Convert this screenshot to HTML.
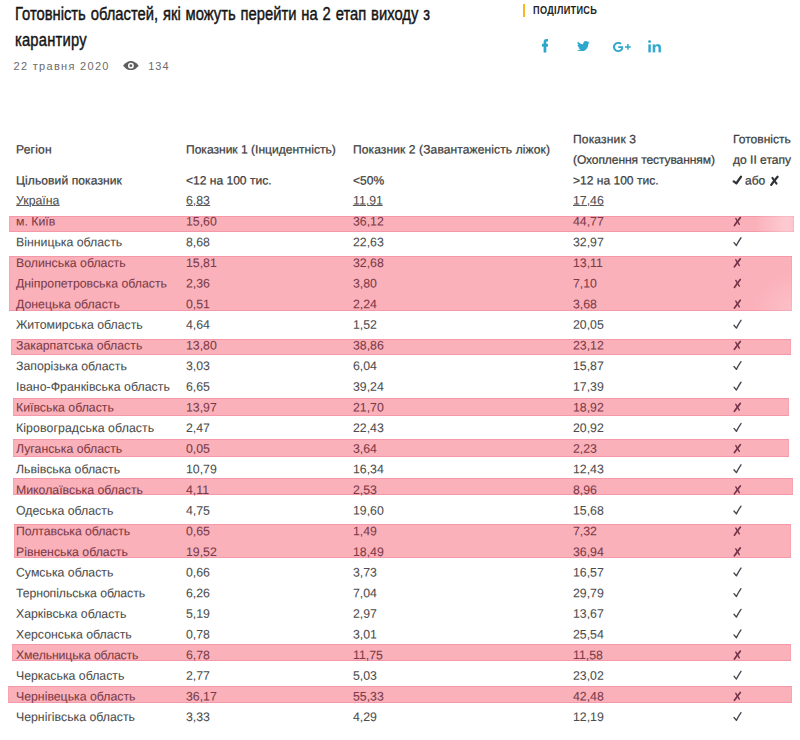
<!DOCTYPE html>
<html lang="uk"><head><meta charset="utf-8"><title>Готовність областей</title>
<style>
html,body{margin:0;padding:0;background:#fff;}
body{width:800px;height:740px;position:relative;overflow:hidden;font-family:"Liberation Sans",sans-serif;color:#444;}
.t{position:absolute;transform-origin:0 0;white-space:nowrap;font-size:12.3px;line-height:20px;height:20px;color:#4d4d4d;-webkit-text-stroke:0.08px #4d4d4d;}
.t.r{color:#7a3a48;-webkit-text-stroke:0.08px #7a3a48;}
.t.h{color:#3d3d3d;font-size:12.05px;-webkit-text-stroke:0.24px #3d3d3d;}
.t.ul{color:transparent;-webkit-text-stroke:0;text-decoration:underline;text-decoration-color:#5a5a5a;text-underline-offset:1px;text-decoration-thickness:1px;}
.band{position:absolute;background:#fbb1ba;box-shadow:inset 0 1px 0 #f598aa, inset 0 -1px 0 #f598aa, inset 1px 0 0 #f7a3b0, inset -1px 0 0 #f7a3b0;}
.marks{position:absolute;left:0;top:0;}
.marks path{fill:none;stroke-linecap:round;stroke-linejoin:round;stroke:#3e4147;}
.marks .ck{stroke-width:1.35;stroke:#44474d;}
.marks .cxa{stroke-width:1.7;stroke:#743448;}
.marks .cxb{stroke-width:1.4;stroke:#743448;}
.marks .hk{stroke-width:2.25;stroke:#2f3236;}
.marks .hxa{stroke-width:2.3;stroke:#2f3236;}
.marks .hxb{stroke-width:2.0;stroke:#2f3236;}
.title{position:absolute;left:15.2px;top:0;width:560px;height:60px;font-size:18.7px;color:#151515;-webkit-text-stroke:0.45px #151515;}
.title span{position:absolute;left:0;display:block;white-space:nowrap;line-height:24px;height:24px;margin-top:3.6px;transform-origin:0 50%;transform:scaleX(0.79);word-spacing:1px;}
.meta{position:absolute;font-size:11px;letter-spacing:1.3px;color:#6b6b6b;white-space:nowrap;line-height:14px;}
.share{position:absolute;left:532.6px;top:3px;font-weight:bold;font-size:11px;line-height:14px;color:#222;white-space:nowrap;transform-origin:0 50%;transform:scaleX(0.83);letter-spacing:0.4px;}
.bar{position:absolute;left:522.8px;top:3.7px;width:2px;height:13px;background:#fbb81e;}
.ic{position:absolute;fill:#2ea7cd;}

</style></head><body>
<div class="title"><span style="top:-1.3px">Готовність областей, які можуть перейти на 2 етап виходу з</span><span style="top:24.5px;letter-spacing:0.24px">карантиру</span></div>
<div class="meta" style="left:13.6px;top:59px">22 травня 2020</div>
<div class="meta" style="left:148.2px;top:59px;letter-spacing:1.05px">134</div>
<svg class="ic" style="left:123px;top:60.7px;width:15.8px;height:9.3px" viewBox="0 0 32 19"><path fill="#5e5e5e" d="M0 9.500Q8 0 16 0T32 9.500Q24 19 16 19T0 9.500z"/><circle cx="16" cy="9.500" r="6" fill="#fff"/><circle cx="16" cy="9.500" r="2.900" fill="#5e5e5e"/></svg>
<div class="bar"></div>
<div class="share">ПОДІЛИТИСЬ</div>
<div class="t h" style="left:16.2px;top:139px;transform:translateY(0.50px) rotate(0.03deg);letter-spacing:0.2px">Регіон</div>
<div class="t h" style="left:186.2px;top:139px;transform:translateY(0.50px) rotate(0.03deg);">Показник 1 (Інцидентність)</div>
<div class="t h" style="left:352.8px;top:139px;transform:translateY(0.50px) rotate(0.03deg);letter-spacing:0.1px">Показник 2 (Завантаженість ліжок)</div>
<div class="t h" style="left:573.0px;top:129px;transform:translateY(0.20px) rotate(0.03deg);letter-spacing:0.15px">Показник 3</div>
<div class="t h" style="left:573.0px;top:149px;transform:translateY(0.80px) rotate(0.03deg);letter-spacing:-0.1px">(Охоплення тестуванням)</div>
<div class="t h" style="left:732.6px;top:129px;transform:translateY(0.20px) rotate(0.03deg);">Готовність</div>
<div class="t h" style="left:732.6px;top:149px;transform:translateY(0.80px) rotate(0.03deg);">до ІІ етапу</div>
<div class="t h" style="left:745.2px;top:170px;transform:translateY(0.50px) rotate(0.03deg);">або</div>
<div class="t h" style="left:16.2px;top:170px;transform:translateY(0.50px) rotate(0.03deg);letter-spacing:0.1px">Цільовий показник</div>
<div class="t h" style="left:186.2px;top:170px;transform:translateY(0.50px) rotate(0.03deg);">&lt;12 на 100 тис.</div>
<div class="t h" style="left:352.8px;top:170px;transform:translateY(0.50px) rotate(0.03deg);">&lt;50%</div>
<div class="t h" style="left:573.0px;top:170px;transform:translateY(0.50px) rotate(0.03deg);">&gt;12 на 100 тис.</div>
<div class="t " style="left:16.2px;top:190px;transform:translateY(0.60px) rotate(0.03deg);">Україна</div>
<div class="t ul" style="left:16.2px;top:190px">Україна</div>
<div class="t " style="left:186.2px;top:190px;transform:translateY(0.60px) rotate(0.03deg);">6,83</div>
<div class="t ul" style="left:186.2px;top:190px">6,83</div>
<div class="t " style="left:352.8px;top:190px;transform:translateY(0.60px) rotate(0.03deg);">11,91</div>
<div class="t ul" style="left:352.8px;top:190px">11,91</div>
<div class="t " style="left:573.0px;top:190px;transform:translateY(0.60px) rotate(0.03deg);">17,46</div>
<div class="t ul" style="left:573.0px;top:190px">17,46</div>
<svg class="ic" viewBox="22.89 0 274.9 512" preserveAspectRatio="none" style="left:542.1px;top:39.3px;width:6.2px;height:13.3px"><path stroke="#2ea7cd" stroke-width="18" stroke-linejoin="round" d="M279.14 288l14.22-92.66h-88.91v-60.13c0-25.35 12.42-50.06 52.24-50.06h40.42V6.260S260.430 0 225.360 0c-73.220 0-121.080 44.380-121.080 124.720v70.620H22.890V288h81.390v224h100.170V288z"/></svg>
<svg class="ic" viewBox="0 48 512 416" preserveAspectRatio="none" style="left:577.2px;top:40.8px;width:12.7px;height:10.6px"><path d="M459.370 151.716c.325 4.548.325 9.097.325 13.645 0 138.720-105.583 298.558-298.558 298.558-59.452 0-114.680-17.219-161.137-47.106 8.447.974 16.568 1.299 25.340 1.299 49.055 0 94.213-16.568 130.274-44.832-46.132-.975-84.792-31.188-98.112-72.772 6.498.974 12.995 1.624 19.818 1.624 9.421 0 18.843-1.300 27.614-3.573-48.081-9.747-84.143-51.980-84.143-102.985v-1.299c13.969 7.797 30.214 12.670 47.431 13.319-28.264-18.843-46.781-51.005-46.781-87.391 0-19.492 5.197-37.360 14.294-52.954 51.655 63.675 129.300 105.258 216.365 109.807-1.624-7.797-2.599-15.918-2.599-24.040 0-57.828 46.782-104.934 104.934-104.934 30.213 0 57.502 12.670 76.670 33.137 23.715-4.548 46.456-13.320 66.599-25.340-7.798 24.366-24.366 44.833-46.132 57.827 21.117-2.273 41.584-8.122 60.426-16.243-14.292 20.791-32.161 39.308-52.628 54.253z"/></svg>
<svg class="ic" viewBox="13 64.4 376.2 383.6" preserveAspectRatio="none" style="left:613.1px;top:41.9px;width:10.3px;height:10.0px"><path d="M386.061 228.496c1.834 9.692 3.143 19.384 3.143 31.956C389.204 370.205 315.599 448 204.800 448c-106.084 0-191.800-85.716-191.800-191.800S98.716 64.400 204.800 64.400c51.864 0 95.083 18.859 128.611 50.292l-52.126 50.030c-14.145-13.621-39.028-29.599-76.485-29.599-65.484 0-118.920 54.221-118.920 121.077 0 66.856 53.436 121.077 118.920 121.077 75.961 0 104.513-54.745 108.965-82.773H204.800v-66.009h181.261z"/></svg>
<svg class="ic" viewBox="0 0 10 10" preserveAspectRatio="none" style="left:625.4px;top:43.9px;width:5.8px;height:5.8px"><path d="M3.7 0h2.600v3.700H10v2.600H6.300V10H3.700V6.300H0V3.700h3.700z"/></svg>
<svg class="ic" viewBox="0 0 448 448" preserveAspectRatio="none" style="left:647.95px;top:39.95px;width:13.1px;height:12.6px"><path stroke="#fff" stroke-width="10" d="M100.280 448H7.400V148.900h92.880zM53.790 108.100C24.090 108.100 0 83.500 0 53.800a53.790 53.790 0 0 1 107.580 0c0 29.700-24.100 54.300-53.790 54.300zM447.900 448h-92.680V302.400c0-34.700-.700-79.200-48.290-79.200-48.290 0-55.690 37.700-55.690 76.700V448h-92.780V148.900h89.080v40.800h1.300c12.400-23.500 42.690-48.300 87.880-48.300 94 0 111.280 61.900 111.280 142.300V448z"/></svg>
<div class="band" style="top:216px;height:16px;left:9px;width:785px"><div style="position:absolute;left:0;top:0;right:0;bottom:0;background-image:linear-gradient(to right,rgba(255,255,255,0) 0,rgba(255,255,255,0) 746px,rgba(255,255,255,.34) 777px,rgba(255,255,255,.3) 782px,rgba(255,255,255,.2) 785px);"></div></div>
<div class="band" style="top:256px;height:55px;left:9px;width:783px"><div style="position:absolute;left:0;top:0;right:0;bottom:0;background-image:radial-gradient(circle at 100% 100%,rgba(255,255,255,.2),rgba(255,255,255,0) 38px);"></div></div>
<div class="band" style="top:339px;height:16px;left:11px;width:780px"></div>
<div class="band" style="top:398px;height:18px;left:13px;width:776px"></div>
<div class="band" style="top:439px;height:18px;left:13px;width:776px"></div>
<div class="band" style="top:478px;height:17px;left:13px;width:780px"></div>
<div class="band" style="top:524px;height:34px;left:14px;width:777px"></div>
<div class="band" style="top:644px;height:17px;left:12px;width:779px"></div>
<div class="band" style="top:686px;height:17px;left:8px;width:784px"></div>
<div class="t r" style="left:16.20px;top:211px;transform:translateY(0.60px) rotate(0.03deg)">м. Київ</div>
<div class="t r" style="left:186.20px;top:211px;transform:translateY(0.60px) rotate(0.03deg)">15,60</div>
<div class="t r" style="left:352.60px;top:211px;transform:translateY(0.60px) rotate(0.03deg)">36,12</div>
<div class="t r" style="left:573.20px;top:211px;transform:translateY(0.60px) rotate(0.03deg)">44,77</div>
<div class="t " style="left:16.20px;top:232px;transform:translateY(0.24px) rotate(0.03deg)">Вінницька область</div>
<div class="t " style="left:186.20px;top:232px;transform:translateY(0.24px) rotate(0.03deg)">8,68</div>
<div class="t " style="left:352.60px;top:232px;transform:translateY(0.24px) rotate(0.03deg)">22,63</div>
<div class="t " style="left:573.20px;top:232px;transform:translateY(0.24px) rotate(0.03deg)">32,97</div>
<div class="t r" style="left:16.20px;top:252px;transform:translateY(0.89px) rotate(0.03deg)">Волинська область</div>
<div class="t r" style="left:186.20px;top:252px;transform:translateY(0.89px) rotate(0.03deg)">15,81</div>
<div class="t r" style="left:352.60px;top:252px;transform:translateY(0.89px) rotate(0.03deg)">32,68</div>
<div class="t r" style="left:573.20px;top:252px;transform:translateY(0.89px) rotate(0.03deg)">13,11</div>
<div class="t r" style="left:16.20px;top:273px;transform:translateY(0.53px) rotate(0.03deg)">Дніпропетровська область</div>
<div class="t r" style="left:186.20px;top:273px;transform:translateY(0.53px) rotate(0.03deg)">2,36</div>
<div class="t r" style="left:352.60px;top:273px;transform:translateY(0.53px) rotate(0.03deg)">3,80</div>
<div class="t r" style="left:573.20px;top:273px;transform:translateY(0.53px) rotate(0.03deg)">7,10</div>
<div class="t r" style="left:16.20px;top:294px;transform:translateY(0.18px) rotate(0.03deg)">Донецька область</div>
<div class="t r" style="left:186.20px;top:294px;transform:translateY(0.18px) rotate(0.03deg)">0,51</div>
<div class="t r" style="left:352.60px;top:294px;transform:translateY(0.18px) rotate(0.03deg)">2,24</div>
<div class="t r" style="left:573.20px;top:294px;transform:translateY(0.18px) rotate(0.03deg)">3,68</div>
<div class="t " style="left:16.20px;top:314px;transform:translateY(0.82px) rotate(0.03deg)">Житомирська область</div>
<div class="t " style="left:186.20px;top:314px;transform:translateY(0.82px) rotate(0.03deg)">4,64</div>
<div class="t " style="left:352.60px;top:314px;transform:translateY(0.82px) rotate(0.03deg)">1,52</div>
<div class="t " style="left:573.20px;top:314px;transform:translateY(0.82px) rotate(0.03deg)">20,05</div>
<div class="t r" style="left:16.20px;top:335px;transform:translateY(0.46px) rotate(0.03deg)">Закарпатська область</div>
<div class="t r" style="left:186.20px;top:335px;transform:translateY(0.46px) rotate(0.03deg)">13,80</div>
<div class="t r" style="left:352.60px;top:335px;transform:translateY(0.46px) rotate(0.03deg)">38,86</div>
<div class="t r" style="left:573.20px;top:335px;transform:translateY(0.46px) rotate(0.03deg)">23,12</div>
<div class="t " style="left:16.20px;top:356px;transform:translateY(0.11px) rotate(0.03deg)">Запорізька область</div>
<div class="t " style="left:186.20px;top:356px;transform:translateY(0.11px) rotate(0.03deg)">3,03</div>
<div class="t " style="left:352.60px;top:356px;transform:translateY(0.11px) rotate(0.03deg)">6,04</div>
<div class="t " style="left:573.20px;top:356px;transform:translateY(0.11px) rotate(0.03deg)">15,87</div>
<div class="t " style="left:16.20px;top:376px;transform:translateY(0.75px) rotate(0.03deg);letter-spacing:0.05px">Івано-Франківська область</div>
<div class="t " style="left:186.20px;top:376px;transform:translateY(0.75px) rotate(0.03deg)">6,65</div>
<div class="t " style="left:352.60px;top:376px;transform:translateY(0.75px) rotate(0.03deg)">39,24</div>
<div class="t " style="left:573.20px;top:376px;transform:translateY(0.75px) rotate(0.03deg)">17,39</div>
<div class="t r" style="left:16.20px;top:397px;transform:translateY(0.40px) rotate(0.03deg)">Київська область</div>
<div class="t r" style="left:186.20px;top:397px;transform:translateY(0.40px) rotate(0.03deg)">13,97</div>
<div class="t r" style="left:352.60px;top:397px;transform:translateY(0.40px) rotate(0.03deg)">21,70</div>
<div class="t r" style="left:573.20px;top:397px;transform:translateY(0.40px) rotate(0.03deg)">18,92</div>
<div class="t " style="left:16.20px;top:418px;transform:translateY(0.04px) rotate(0.03deg);letter-spacing:0.1px">Кіровоградська область</div>
<div class="t " style="left:186.20px;top:418px;transform:translateY(0.04px) rotate(0.03deg)">2,47</div>
<div class="t " style="left:352.60px;top:418px;transform:translateY(0.04px) rotate(0.03deg)">22,43</div>
<div class="t " style="left:573.20px;top:418px;transform:translateY(0.04px) rotate(0.03deg)">20,92</div>
<div class="t r" style="left:16.20px;top:438px;transform:translateY(0.68px) rotate(0.03deg)">Луганська область</div>
<div class="t r" style="left:186.20px;top:438px;transform:translateY(0.68px) rotate(0.03deg)">0,05</div>
<div class="t r" style="left:352.60px;top:438px;transform:translateY(0.68px) rotate(0.03deg)">3,64</div>
<div class="t r" style="left:573.20px;top:438px;transform:translateY(0.68px) rotate(0.03deg)">2,23</div>
<div class="t " style="left:16.20px;top:459px;transform:translateY(0.33px) rotate(0.03deg)">Львівська область</div>
<div class="t " style="left:186.20px;top:459px;transform:translateY(0.33px) rotate(0.03deg)">10,79</div>
<div class="t " style="left:352.60px;top:459px;transform:translateY(0.33px) rotate(0.03deg)">16,34</div>
<div class="t " style="left:573.20px;top:459px;transform:translateY(0.33px) rotate(0.03deg)">12,43</div>
<div class="t r" style="left:16.20px;top:479px;transform:translateY(0.97px) rotate(0.03deg)">Миколаївська область</div>
<div class="t r" style="left:186.20px;top:479px;transform:translateY(0.97px) rotate(0.03deg)">4,11</div>
<div class="t r" style="left:352.60px;top:479px;transform:translateY(0.97px) rotate(0.03deg)">2,53</div>
<div class="t r" style="left:573.20px;top:479px;transform:translateY(0.97px) rotate(0.03deg)">8,96</div>
<div class="t " style="left:16.20px;top:500px;transform:translateY(0.62px) rotate(0.03deg)">Одеська область</div>
<div class="t " style="left:186.20px;top:500px;transform:translateY(0.62px) rotate(0.03deg)">4,75</div>
<div class="t " style="left:352.60px;top:500px;transform:translateY(0.62px) rotate(0.03deg)">19,60</div>
<div class="t " style="left:573.20px;top:500px;transform:translateY(0.62px) rotate(0.03deg)">15,68</div>
<div class="t r" style="left:16.20px;top:521px;transform:translateY(0.26px) rotate(0.03deg);letter-spacing:-0.07px">Полтавська область</div>
<div class="t r" style="left:186.20px;top:521px;transform:translateY(0.26px) rotate(0.03deg)">0,65</div>
<div class="t r" style="left:352.60px;top:521px;transform:translateY(0.26px) rotate(0.03deg)">1,49</div>
<div class="t r" style="left:573.20px;top:521px;transform:translateY(0.26px) rotate(0.03deg)">7,32</div>
<div class="t r" style="left:16.20px;top:541px;transform:translateY(0.90px) rotate(0.03deg)">Рівненська область</div>
<div class="t r" style="left:186.20px;top:541px;transform:translateY(0.90px) rotate(0.03deg)">19,52</div>
<div class="t r" style="left:352.60px;top:541px;transform:translateY(0.90px) rotate(0.03deg)">18,49</div>
<div class="t r" style="left:573.20px;top:541px;transform:translateY(0.90px) rotate(0.03deg)">36,94</div>
<div class="t " style="left:16.20px;top:562px;transform:translateY(0.55px) rotate(0.03deg)">Сумська область</div>
<div class="t " style="left:186.20px;top:562px;transform:translateY(0.55px) rotate(0.03deg)">0,66</div>
<div class="t " style="left:352.60px;top:562px;transform:translateY(0.55px) rotate(0.03deg)">3,73</div>
<div class="t " style="left:573.20px;top:562px;transform:translateY(0.55px) rotate(0.03deg)">16,57</div>
<div class="t " style="left:16.20px;top:583px;transform:translateY(0.19px) rotate(0.03deg);letter-spacing:-0.1px">Тернопільська область</div>
<div class="t " style="left:186.20px;top:583px;transform:translateY(0.19px) rotate(0.03deg)">6,26</div>
<div class="t " style="left:352.60px;top:583px;transform:translateY(0.19px) rotate(0.03deg)">7,04</div>
<div class="t " style="left:573.20px;top:583px;transform:translateY(0.19px) rotate(0.03deg)">29,79</div>
<div class="t " style="left:16.20px;top:603px;transform:translateY(0.84px) rotate(0.03deg)">Харківська область</div>
<div class="t " style="left:186.20px;top:603px;transform:translateY(0.84px) rotate(0.03deg)">5,19</div>
<div class="t " style="left:352.60px;top:603px;transform:translateY(0.84px) rotate(0.03deg)">2,97</div>
<div class="t " style="left:573.20px;top:603px;transform:translateY(0.84px) rotate(0.03deg)">13,67</div>
<div class="t " style="left:16.20px;top:624px;transform:translateY(0.48px) rotate(0.03deg)">Херсонська область</div>
<div class="t " style="left:186.20px;top:624px;transform:translateY(0.48px) rotate(0.03deg)">0,78</div>
<div class="t " style="left:352.60px;top:624px;transform:translateY(0.48px) rotate(0.03deg)">3,01</div>
<div class="t " style="left:573.20px;top:624px;transform:translateY(0.48px) rotate(0.03deg)">25,54</div>
<div class="t r" style="left:16.20px;top:645px;transform:translateY(0.12px) rotate(0.03deg);letter-spacing:-0.15px">Хмельницька область</div>
<div class="t r" style="left:186.20px;top:645px;transform:translateY(0.12px) rotate(0.03deg)">6,78</div>
<div class="t r" style="left:352.60px;top:645px;transform:translateY(0.12px) rotate(0.03deg)">11,75</div>
<div class="t r" style="left:573.20px;top:645px;transform:translateY(0.12px) rotate(0.03deg)">11,58</div>
<div class="t " style="left:16.20px;top:665px;transform:translateY(0.77px) rotate(0.03deg)">Черкаська область</div>
<div class="t " style="left:186.20px;top:665px;transform:translateY(0.77px) rotate(0.03deg)">2,77</div>
<div class="t " style="left:352.60px;top:665px;transform:translateY(0.77px) rotate(0.03deg)">5,03</div>
<div class="t " style="left:573.20px;top:665px;transform:translateY(0.77px) rotate(0.03deg)">23,02</div>
<div class="t r" style="left:16.20px;top:686px;transform:translateY(0.41px) rotate(0.03deg)">Чернівецька область</div>
<div class="t r" style="left:186.20px;top:686px;transform:translateY(0.41px) rotate(0.03deg)">36,17</div>
<div class="t r" style="left:352.60px;top:686px;transform:translateY(0.41px) rotate(0.03deg)">55,33</div>
<div class="t r" style="left:573.20px;top:686px;transform:translateY(0.41px) rotate(0.03deg)">42,48</div>
<div class="t " style="left:16.20px;top:707px;transform:translateY(0.06px) rotate(0.03deg)">Чернігівська область</div>
<div class="t " style="left:186.20px;top:707px;transform:translateY(0.06px) rotate(0.03deg)">3,33</div>
<div class="t " style="left:352.60px;top:707px;transform:translateY(0.06px) rotate(0.03deg)">4,29</div>
<div class="t " style="left:573.20px;top:707px;transform:translateY(0.06px) rotate(0.03deg)">12,19</div>
<svg class="marks" width="800" height="740" viewBox="0 0 800 740"><path class="cxa r" d="M740.3 217.60 Q737.3 221.40 734.4 225.50"/><path class="cxb r" d="M735.8 218.50 L739.3 224.30"/><path class="ck " d="M734.0 242.64 L736.4 245.54 Q738.5 241.24 741.0 237.74"/><path class="cxa r" d="M740.3 258.89 Q737.3 262.69 734.4 266.79"/><path class="cxb r" d="M735.8 259.79 L739.3 265.59"/><path class="cxa r" d="M740.3 279.53 Q737.3 283.33 734.4 287.43"/><path class="cxb r" d="M735.8 280.43 L739.3 286.23"/><path class="cxa r" d="M740.3 300.18 Q737.3 303.98 734.4 308.08"/><path class="cxb r" d="M735.8 301.08 L739.3 306.88"/><path class="ck " d="M734.0 325.22 L736.4 328.12 Q738.5 323.82 741.0 320.32"/><path class="cxa r" d="M740.3 341.46 Q737.3 345.26 734.4 349.36"/><path class="cxb r" d="M735.8 342.36 L739.3 348.16"/><path class="ck " d="M734.0 366.51 L736.4 369.41 Q738.5 365.11 741.0 361.61"/><path class="ck " d="M734.0 387.15 L736.4 390.05 Q738.5 385.75 741.0 382.25"/><path class="cxa r" d="M740.3 403.40 Q737.3 407.20 734.4 411.30"/><path class="cxb r" d="M735.8 404.30 L739.3 410.10"/><path class="ck " d="M734.0 428.44 L736.4 431.34 Q738.5 427.04 741.0 423.54"/><path class="cxa r" d="M740.3 444.68 Q737.3 448.48 734.4 452.58"/><path class="cxb r" d="M735.8 445.58 L739.3 451.38"/><path class="ck " d="M734.0 469.73 L736.4 472.63 Q738.5 468.33 741.0 464.83"/><path class="cxa r" d="M740.3 485.97 Q737.3 489.77 734.4 493.87"/><path class="cxb r" d="M735.8 486.87 L739.3 492.67"/><path class="ck " d="M734.0 511.02 L736.4 513.92 Q738.5 509.62 741.0 506.12"/><path class="cxa r" d="M740.3 527.26 Q737.3 531.06 734.4 535.16"/><path class="cxb r" d="M735.8 528.16 L739.3 533.96"/><path class="cxa r" d="M740.3 547.90 Q737.3 551.70 734.4 555.80"/><path class="cxb r" d="M735.8 548.80 L739.3 554.60"/><path class="ck " d="M734.0 572.95 L736.4 575.85 Q738.5 571.55 741.0 568.05"/><path class="ck " d="M734.0 593.59 L736.4 596.49 Q738.5 592.19 741.0 588.69"/><path class="ck " d="M734.0 614.24 L736.4 617.14 Q738.5 612.84 741.0 609.34"/><path class="ck " d="M734.0 634.88 L736.4 637.78 Q738.5 633.48 741.0 629.98"/><path class="cxa r" d="M740.3 651.12 Q737.3 654.92 734.4 659.02"/><path class="cxb r" d="M735.8 652.02 L739.3 657.82"/><path class="ck " d="M734.0 676.17 L736.4 679.07 Q738.5 674.77 741.0 671.27"/><path class="cxa r" d="M740.3 692.41 Q737.3 696.21 734.4 700.31"/><path class="cxb r" d="M735.8 693.31 L739.3 699.11"/><path class="ck " d="M734.0 717.46 L736.4 720.36 Q738.5 716.06 741.0 712.56"/><path class="hk" d="M733.7 181.40 L736.4 183.40 Q738.6 179.90 741.0 176.70"/><path class="hxa" d="M777.6 176.80 Q774.2 180.70 771.2 184.90"/><path class="hxb" d="M772.4 177.90 L776.5 183.70"/></svg>
</body></html>
